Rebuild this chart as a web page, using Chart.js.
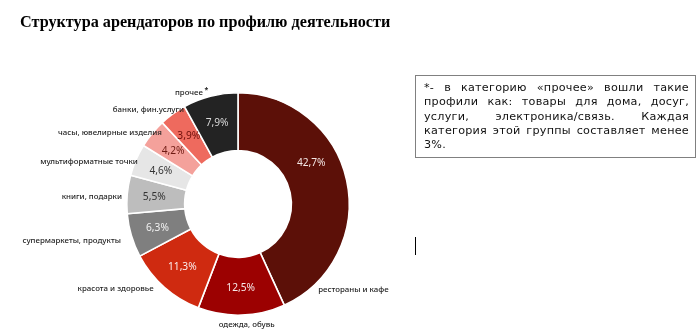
<!DOCTYPE html>
<html><head><meta charset="utf-8">
<script src="https://cdn.jsdelivr.net/npm/chart.js@4.4.0/dist/chart.umd.min.js"></script>
<style>
html,body{margin:0;padding:0;background:#fff;width:700px;height:336px;overflow:hidden;}
#title{position:absolute;left:20px;top:13px;font:bold 16.2px "Liberation Serif";color:#000;white-space:nowrap;}
#wrap{position:absolute;left:0;top:0;width:700px;height:336px;}
#note{position:absolute;left:415px;top:75px;width:281px;height:83px;box-sizing:border-box;border:1px solid #808080;padding:5px 6px 0 8px;font:11.2px "DejaVu Sans";line-height:14.3px;color:#111;letter-spacing:0.25px;}
#note div{text-align:justify;text-align-last:justify;white-space:normal;}
#note div.last{text-align:left;text-align-last:left;}
#cursor{position:absolute;left:415px;top:237px;width:1px;height:18px;background:#000;}
</style></head>
<body>
<div id="wrap"><canvas id="c" width="700" height="336"></canvas></div>
<div id="title">Структура арендаторов по профилю деятельности</div>
<div id="note">
<div>*- в категорию «прочее» вошли такие</div>
<div>профили как: товары для дома, досуг,</div>
<div>услуги, электроника/связь. Каждая</div>
<div>категория этой группы составляет менее</div>
<div class="last">3%.</div>
</div>
<div id="cursor"></div>
<script>
const categories = ['рестораны и кафе','одежда, обувь','красота и здоровье','супермаркеты, продукты','книги, подарки','мультиформатные точки','часы, ювелирные изделия','банки, фин.услуги','прочее'];
const shares = [42.7, 12.5, 11.3, 6.3, 5.5, 4.6, 4.2, 3.9, 7.9];

const sliceColors = ['#5c1008','#9c0101','#cf2a10','#7f7f7f','#bdbdbd','#e6e6e6','#f4a19b','#ee6a5e','#232323'];
const valueColors = ['#f3e6e4','#f6e9e9','#fbeeee','#f2f2f2','#333333','#333333','#6e1a12','#6e0f0a','#d9d9d9'];

const labelPlugin = {
  id: 'sliceLabels',
  afterDatasetsDraw(chart, args, opts) {
    const ctx = chart.ctx;
    const meta = chart.getDatasetMeta(0);
    ctx.save();
    meta.data.forEach((arc, i) => {
      const p = arc.getProps(['x','y','startAngle','endAngle','innerRadius','outerRadius'], true);
      const span = p.endAngle - p.startAngle;
      const a = p.startAngle + span * opts.innerT[i];
      const r = p.innerRadius + (p.outerRadius - p.innerRadius) * opts.innerR;
      ctx.font = opts.valueFont;
      ctx.fillStyle = valueColors[i];
      ctx.textAlign = 'center';
      ctx.textBaseline = 'middle';
      ctx.fillText(shares[i].toFixed(1).replace('.', ',') + '%', p.x + Math.cos(a) * r, p.y + Math.sin(a) * r);
      const o = opts.outer[i];
      const a2 = p.startAngle + span * o.t;
      const r2 = p.outerRadius + o.gap;
      const x = p.x + Math.cos(a2) * r2, y = p.y + Math.sin(a2) * r2;
      ctx.font = opts.catFont;
      ctx.fillStyle = '#1e1e1e';
      ctx.textAlign = o.align;
      ctx.fillText(categories[i], x, y);
      if (o.star) {
        ctx.font = 'bold 7px "Noto Sans"';
        ctx.textAlign = 'left';
        ctx.fillText('*', x + 1.5, y - 3);
      }
    });
    ctx.restore();
  }
};

new Chart(document.getElementById('c'), {
  type: 'doughnut',
  data: {
    labels: categories,
    datasets: [{
      data: shares,
      backgroundColor: sliceColors,
      borderColor: '#ffffff',
      borderWidth: 1.6,
      hoverOffset: 0
    }]
  },
  options: {
    responsive: false,
    animation: false,
    cutout: '48%',
    layout: { padding: { left: 126, right: 350, top: 92, bottom: 20 } },
    plugins: {
      legend: { display: false },
      tooltip: { enabled: false },
      sliceLabels: {
        valueFont: '10.2px "Noto Sans"',
        catFont: '500 7.9px "Noto Sans"',
        innerR: 0.53,
        innerT: [0.39, 0.5, 0.5, 0.5, 0.5, 0.5, 0.5, 0.5, 0.5],
        outer: [
          { t: 0.88, gap: 6, align: 'left' },
          { t: 0.45, gap: 10, align: 'center' },
          { t: 0.58, gap: 8.5, align: 'right' },
          { t: 0.45, gap: 11.7, align: 'right' },
          { t: 0.42, gap: 5, align: 'right' },
          { t: 0.47, gap: -2.5, align: 'right' },
          { t: 0.74, gap: -7, align: 'right' },
          { t: 0.92, gap: -3, align: 'right' },
          { t: 0.39, gap: 5, align: 'right', star: true }
        ]
      }
    }
  },
  plugins: [labelPlugin]
});
</script>
</body></html>
